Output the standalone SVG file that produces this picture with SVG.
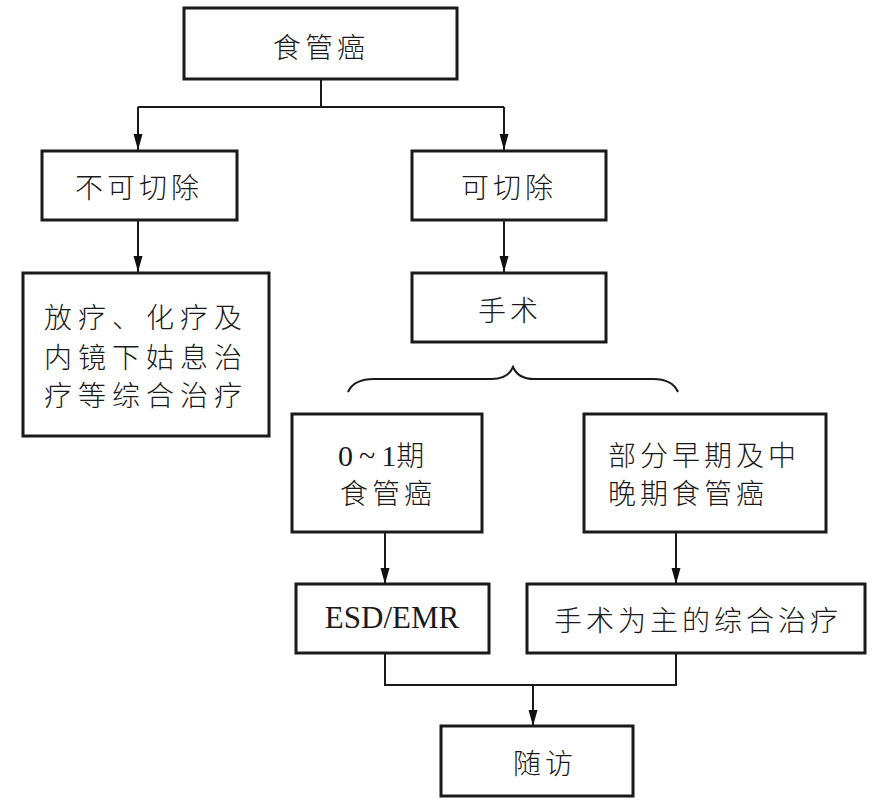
<svg xmlns="http://www.w3.org/2000/svg" width="881" height="803" viewBox="0 0 881 803">
<defs>
<marker id="arr" viewBox="0 0 16 20" refX="16" refY="10" markerWidth="16" markerHeight="20" markerUnits="userSpaceOnUse" orient="auto">
<path d="M0,5.5 L16,10 L0,14.5 Z" fill="#111"/>
</marker>
<style>
.box{fill:#fff;stroke:#1a1a1a;stroke-width:3}
.ln{fill:none;stroke:#1a1a1a;stroke-width:2}
.t{font-family:"Noto Sans CJK SC","Noto Sans CJK JP",sans-serif;font-size:28px;font-weight:300;fill:#1a1a1a;letter-spacing:4px}
.s{font-family:"Liberation Serif",serif}
</style>
</defs>
<rect width="881" height="803" fill="#fff"/>
<g id="connectors">
<path class="ln" d="M321,79 V107 M138,107 H504"/>
<path class="ln" d="M138,107 V150" marker-end="url(#arr)"/>
<path class="ln" d="M504,107 V150" marker-end="url(#arr)"/>
<path class="ln" d="M138,220 V272" marker-end="url(#arr)"/>
<path class="ln" d="M504,220 V272" marker-end="url(#arr)"/>
<path class="ln" d="M348,392 C352,383 362,379 374,379 H492 C503,379 510,374 513,367 C516,374 523,379 534,379 H653 C665,379 674,383 678,392"/>
<path class="ln" d="M385,532 V584" marker-end="url(#arr)"/>
<path class="ln" d="M676,532 V584" marker-end="url(#arr)"/>
<path class="ln" d="M385,653 V685 H676 V653"/>
<path class="ln" d="M533,685 V726" marker-end="url(#arr)"/>
</g>
<g id="n1"><rect class="box" x="184" y="8" width="273" height="71"/><text class="t" x="273" y="58">食管癌</text></g>
<g id="n2"><rect class="box" x="42" y="151" width="195" height="69"/><text class="t" x="75" y="198">不可切除</text></g>
<g id="n3"><rect class="box" x="412" y="151" width="194" height="69"/><text class="t" x="461" y="198">可切除</text></g>
<g id="n4"><rect class="box" x="23" y="273" width="246" height="163"/>
<text class="t" style="letter-spacing:6px" x="44" y="328">放疗、化疗及</text>
<text class="t" style="letter-spacing:6px" x="44" y="368">内镜下姑息治</text>
<text class="t" style="letter-spacing:6px" x="44" y="406">疗等综合治疗</text></g>
<g id="n5"><rect class="box" x="412" y="273" width="194" height="69"/><text class="t" style="letter-spacing:4px" x="478" y="321">手术</text></g>
<g id="n6"><rect class="box" x="292" y="414" width="190" height="118"/>
<text class="t" style="letter-spacing:0" x="338" y="466"><tspan class="s" font-size="30" font-weight="400" letter-spacing="6">0~</tspan><tspan class="s" font-size="30" font-weight="400">1</tspan>期</text>
<text class="t" x="340" y="504">食管癌</text></g>
<g id="n7"><rect class="box" x="584" y="414" width="242" height="118"/>
<text class="t" x="608" y="466">部分早期及中</text>
<text class="t" x="608" y="504">晚期食管癌</text></g>
<g id="n8"><rect class="box" x="296" y="584" width="193" height="69"/><text class="s" font-size="31" fill="#1a1a1a" x="392" y="628" text-anchor="middle">ESD/EMR</text></g>
<g id="n9"><rect class="box" x="527" y="584" width="338" height="69"/><text class="t" x="554" y="631">手术为主的综合治疗</text></g>
<g id="n10"><rect class="box" x="441" y="726" width="192" height="70"/><text class="t" x="513" y="774">随访</text></g>
</svg>
